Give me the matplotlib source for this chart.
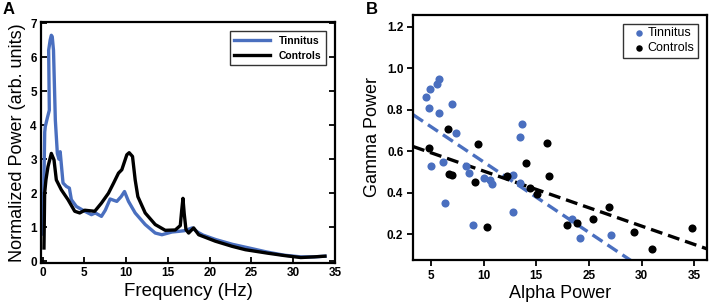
import numpy as np
import matplotlib
matplotlib.use("Agg")
import matplotlib.pyplot as plt

plt.rcParams['font.family'] = ['Liberation Sans', 'DejaVu Sans']

# Panel A: power spectra
freq_tin = [0.05, 0.15, 0.25, 0.32, 0.55, 0.8, 0.72, 0.9, 1.04, 1.15, 1.3, 1.52, 1.76, 1.95, 2.1,
            2.44, 2.84, 3.2, 3.44, 4.04, 5.04, 5.84, 6.3, 7.04, 7.5, 8.08, 8.88, 9.4, 9.8, 10.28,
            11.08, 12.28, 13.48, 14.28, 15.48, 16.3, 17.0, 17.9, 18.6, 19.2, 20.7, 22.7, 24.9,
            26.9, 28.9, 30.9, 32.5, 33.8]
pow_tin = [0.8, 2.3, 3.8, 3.96, 4.2, 4.44, 6.2, 6.5, 6.64, 6.6, 6.2, 4.15, 3.17, 3.0, 3.22,
           2.3, 2.2, 2.15, 1.81, 1.61, 1.47, 1.37, 1.42, 1.32, 1.5, 1.83, 1.76, 1.9, 2.05, 1.76,
           1.42, 1.08, 0.83, 0.78, 0.86, 0.88, 0.9, 0.98, 0.85, 0.77, 0.64, 0.5, 0.38,
           0.27, 0.18, 0.13, 0.13, 0.15]

freq_ctl = [0.16, 0.24, 0.4, 0.64, 1.04, 1.36, 1.64, 2.24, 3.04, 3.84, 4.44, 5.04, 6.24, 7.04,
            7.88, 8.5, 9.08, 9.48, 10.08, 10.36, 10.76, 11.08, 11.4, 12.28, 13.48, 14.68, 15.88,
            16.48, 16.65, 16.8, 16.95, 17.16, 17.48, 18.08, 18.68, 20.68, 22.68, 24.28, 26.9,
            28.9, 30.9, 32.5, 33.8]
pow_ctl = [0.39, 2.0, 2.4, 2.78, 3.17, 2.98, 2.39, 2.1, 1.81, 1.47, 1.42, 1.5, 1.47, 1.71,
           2.0, 2.3, 2.59, 2.69, 3.13, 3.19, 3.08, 2.39, 1.9, 1.42, 1.08, 0.91, 0.92,
           1.05, 1.5, 1.85, 1.4, 0.93, 0.83, 0.98, 0.78, 0.59, 0.44, 0.34, 0.24,
           0.17, 0.11, 0.13, 0.15]

# Panel B: alpha vs gamma power (x in axis positions; labels below)
alpha_tin = [4.49, 4.9, 5.54, 5.79, 4.78, 5.73, 6.96, 7.41, 6.17, 5.03, 6.36, 9.02, 8.32,
             8.61, 10.03, 10.6, 10.8, 12.8, 12.75, 13.45, 13.6, 13.45, 18.35, 19.15, 22.06]
gamma_tin = [0.863, 0.898, 0.922, 0.946, 0.807, 0.786, 0.826, 0.690, 0.550, 0.531, 0.352,
             0.245, 0.531, 0.494, 0.473, 0.462, 0.441, 0.483, 0.308, 0.667, 0.731, 0.446,
             0.272, 0.184, 0.195]
alpha_ctl = [4.84, 6.58, 6.74, 7.03, 9.43, 9.18, 10.28, 12.18, 13.99, 14.4, 15.03, 16.04,
             16.2, 17.94, 18.89, 20.41, 21.93, 24.27, 25.95, 29.75]
gamma_ctl = [0.614, 0.706, 0.491, 0.483, 0.635, 0.454, 0.237, 0.481, 0.542, 0.422, 0.393,
             0.641, 0.481, 0.245, 0.256, 0.272, 0.333, 0.210, 0.128, 0.232]
fit_tin = [-0.03397, 0.888]  # slope, intercept
fit_ctl = [-0.01767, 0.681]
b_tick_pos = [5, 10, 15, 20, 25, 30]
b_tick_labels = ['5', '10', '15', '25', '30', '35']

blue = '#4a6fbf'

fig = plt.figure(figsize=(7.1, 3.04), dpi=100)
axA = fig.add_axes([0.0577, 0.1349, 0.4141, 0.7927])
axB = fig.add_axes([0.5817, 0.1447, 0.4141, 0.806])

# --- A ---
axA.plot(freq_tin, pow_tin, color=blue, lw=2.4, label='Tinnitus', solid_joinstyle='round')
axA.plot(freq_ctl, pow_ctl, color='black', lw=2.4, label='Controls', solid_joinstyle='round')
axA.set_xlim(-0.2, 35)
axA.set_ylim(-0.05, 7.03)
axA.set_xticks(range(0, 36, 5))
axA.set_yticks(range(0, 8))
axA.tick_params(direction='in', length=4, width=1.3, labelsize=8.5, right=True, pad=3)
for lab in axA.get_xticklabels() + axA.get_yticklabels():
    lab.set_fontweight('bold')
axA.set_xlabel('Frequency (Hz)', fontsize=13.5, labelpad=3)
axA.set_ylabel('Normalized Power (arb. units)', fontsize=13, labelpad=3)
for s in axA.spines.values():
    s.set_linewidth(1.6)
legA = axA.legend(loc='upper right', frameon=True, fancybox=False,
                  edgecolor='black', handlelength=3.5, borderaxespad=0.9,
                  prop={'weight': 'bold', 'size': 7.5})
legA.get_frame().set_linewidth(1.0)
fig.text(0.003, 0.995, 'A', fontsize=12, fontweight='bold', va='top', ha='left')

# --- B ---
axB.scatter(alpha_tin, gamma_tin, s=34, color=blue, label='Tinnitus', zorder=3, linewidths=0)
axB.scatter(alpha_ctl, gamma_ctl, s=34, color='black', label='Controls', zorder=3, linewidths=0)
xs = np.array([3.3, 31.2])
axB.plot(xs, np.polyval(fit_tin, xs), color=blue, lw=2.4, dashes=(3.6, 1.8), zorder=2)
axB.plot(xs, np.polyval(fit_ctl, xs), color='black', lw=2.4, dashes=(3.6, 1.8), zorder=2)
axB.set_xlim(3.3, 31.2)
axB.set_ylim(0.076, 1.256)
axB.set_xticks(b_tick_pos)
axB.set_xticklabels(b_tick_labels)
axB.set_yticks([0.2, 0.4, 0.6, 0.8, 1.0, 1.2])
axB.set_yticklabels(['0.2', '0.4', '0.6', '0.8', '1.0', '1.2'])
axB.tick_params(direction='out', length=4, width=1.3, labelsize=8.5, pad=3)
for lab in axB.get_xticklabels() + axB.get_yticklabels():
    lab.set_fontweight('bold')
axB.set_xlabel('Alpha Power', fontsize=13, labelpad=2)
axB.set_ylabel('Gamma Power', fontsize=13, labelpad=4)
for s in axB.spines.values():
    s.set_linewidth(1.6)
legB = axB.legend(loc='upper right', frameon=True, fancybox=False, edgecolor='black',
                  handletextpad=-0.3, borderaxespad=0.7, borderpad=0.3, labelspacing=0.2,
                  markerscale=0.8, prop={'size': 9})
legB.get_frame().set_linewidth(1.0)
fig.text(0.516, 0.995, 'B', fontsize=12, fontweight='bold', va='top', ha='left')

fig.savefig('out.png', dpi=100)
